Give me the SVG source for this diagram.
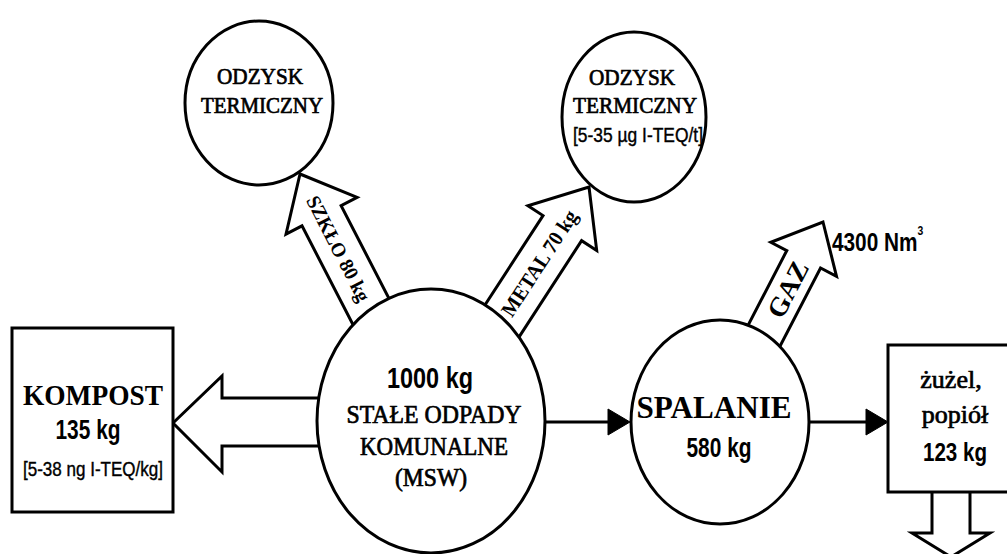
<svg xmlns="http://www.w3.org/2000/svg" width="1007" height="554" viewBox="0 0 1007 554">
<style>
.bg{fill:#fff}
.node{fill:#fff;stroke:#000;stroke-width:3}
.arw{fill:#fff;stroke:#000;stroke-width:3;stroke-linejoin:miter}
.ln{fill:none;stroke:#000;stroke-width:3}
.hd{fill:#000;stroke:#000;stroke-width:1}
.sr{font-family:"Liberation Serif","Times New Roman",serif;fill:#000;stroke:#000;stroke-width:0.7;text-anchor:middle}
.srb{font-family:"Liberation Serif","Times New Roman",serif;font-weight:bold;fill:#000;text-anchor:middle}
.ss{font-family:"Liberation Sans",Arial,sans-serif;font-weight:bold;fill:#000;text-anchor:middle}
.ssn{font-family:"Liberation Sans",Arial,sans-serif;fill:#000;stroke:#000;stroke-width:0.4;text-anchor:middle}
</style>
<rect class="bg" x="0" y="0" width="1007" height="554"/>
<g id="connectors">
  <polygon class="arw" points="173,423 222,376 222,398 335,398 335,446 222,446 222,472"/>
  <g transform="translate(300,174) rotate(-27.3)">
    <polygon class="arw" points="0,0 40,47 22,47 22,172 -22,172 -22,47 -40,47"/>
    <text class="srb" font-size="20" transform="translate(0,84) rotate(90)" y="7" textLength="116" lengthAdjust="spacingAndGlyphs">SZKŁO 80 kg</text>
  </g>
  <g transform="translate(589,187) rotate(33)">
    <polygon class="arw" points="0,0 41,49 23,49 23,178 -23,178 -23,49 -41,49"/>
    <text class="srb" font-size="21" transform="translate(0,91) rotate(-90)" y="7" textLength="122" lengthAdjust="spacingAndGlyphs">METAL 70 kg</text>
  </g>
  <g transform="translate(823,222) rotate(27.4)">
    <polygon class="arw" points="0,0 37,42 19,42 19,138 -19,138 -19,42 -37,42"/>
    <text class="srb" font-size="27" transform="translate(0,76) rotate(-90)" y="9" textLength="60" lengthAdjust="spacingAndGlyphs">GAZ</text>
  </g>
  <text class="ss" style="text-anchor:start" font-size="26" transform="translate(832,251) scale(0.8,1)">4300 Nm<tspan font-size="13" dy="-16">3</tspan></text>
  <line class="ln" x1="545" y1="422" x2="612" y2="422"/>
  <polygon class="hd" points="608,409 630,422 608,435"/>
  <line class="ln" x1="808" y1="422" x2="870" y2="422"/>
  <polygon class="hd" points="866,409 888,422 866,435"/>
  <polygon class="arw" points="932,488 932,533 912,533 951,557 990,533 970,533 970,488"/>
</g>
<g id="odzysk1">
  <ellipse class="node" cx="259" cy="103" rx="74" ry="82"/>
  <text class="sr" x="260" y="84" font-size="23" textLength="86" lengthAdjust="spacingAndGlyphs">ODZYSK</text>
  <text class="sr" x="262" y="113" font-size="23" textLength="122" lengthAdjust="spacingAndGlyphs">TERMICZNY</text>
</g>
<g id="odzysk2">
  <ellipse class="node" cx="634" cy="117" rx="72" ry="85"/>
  <text class="sr" x="632" y="85" font-size="23" textLength="86" lengthAdjust="spacingAndGlyphs">ODZYSK</text>
  <text class="sr" x="635" y="113" font-size="23" textLength="124" lengthAdjust="spacingAndGlyphs">TERMICZNY</text>
  <text class="ssn" x="638" y="142" font-size="20" textLength="130" lengthAdjust="spacingAndGlyphs">[5-35 µg I-TEQ/t]</text>
</g>
<g id="msw">
  <ellipse class="node" cx="431" cy="421" rx="114" ry="132"/>
  <text class="ss" x="430" y="388" font-size="30" textLength="86" lengthAdjust="spacingAndGlyphs">1000 kg</text>
  <text class="sr" x="434" y="423" font-size="25" textLength="175" lengthAdjust="spacingAndGlyphs">STAŁE ODPADY</text>
  <text class="sr" x="434" y="455" font-size="25" textLength="148" lengthAdjust="spacingAndGlyphs">KOMUNALNE</text>
  <text class="sr" x="431" y="486" font-size="25" textLength="72" lengthAdjust="spacingAndGlyphs">(MSW)</text>
</g>
<g id="kompost">
  <rect class="node" x="12" y="328" width="161" height="184"/>
  <text class="srb" x="93" y="405" font-size="30" textLength="140" lengthAdjust="spacingAndGlyphs">KOMPOST</text>
  <text class="ss" x="88" y="439" font-size="27" textLength="65" lengthAdjust="spacingAndGlyphs">135 kg</text>
  <text class="ssn" x="93" y="476" font-size="20" textLength="140" lengthAdjust="spacingAndGlyphs">[5-38 ng I-TEQ/kg]</text>
</g>
<g id="spalanie">
  <ellipse class="node" cx="720" cy="422" rx="89" ry="102"/>
  <text class="srb" x="714" y="418" font-size="31" textLength="155" lengthAdjust="spacingAndGlyphs">SPALANIE</text>
  <text class="ss" x="719" y="457" font-size="28" textLength="65" lengthAdjust="spacingAndGlyphs">580 kg</text>
</g>
<g id="zuzel">
  <rect class="node" x="888" y="345" width="135" height="147"/>
  <text class="sr" x="951" y="388" font-size="26">żużel,</text>
  <text class="sr" x="955" y="423" font-size="26">popiół</text>
  <text class="ss" x="955" y="461" font-size="26" textLength="64" lengthAdjust="spacingAndGlyphs">123 kg</text>
</g>
</svg>
